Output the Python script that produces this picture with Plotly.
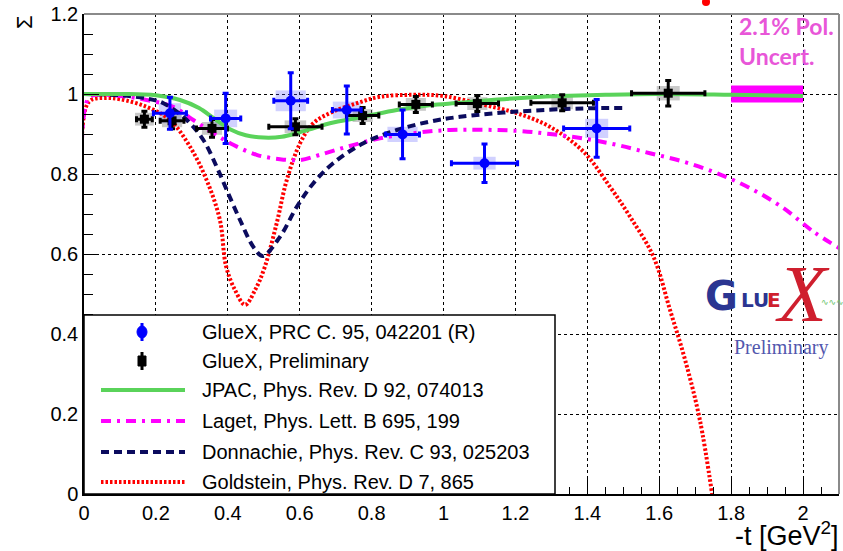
import plotly.graph_objects as go

# ---------------- data ----------------
# GlueX, PRC 95, 042201 (R)
blue_t = [0.239, 0.394, 0.575, 0.731, 0.886, 1.114, 1.426]
blue_sigma = [0.952, 0.939, 0.983, 0.960, 0.899, 0.827, 0.914]
blue_dt = [0.046, 0.042, 0.047, 0.040, 0.047, 0.092, 0.092]
blue_dsigma = [0.040, 0.063, 0.070, 0.060, 0.061, 0.048, 0.072]
blue_sys_t = [0.031, 0.032, 0.042, 0.039, 0.042, 0.031, 0.032]
blue_sys_sigma = [0.025, 0.022, 0.026, 0.021, 0.019, 0.016, 0.024]

# GlueX, preliminary
black_t = [0.168, 0.245, 0.356, 0.588, 0.775, 0.923, 1.094, 1.330, 1.625]
black_sigma = [0.937, 0.933, 0.914, 0.918, 0.946, 0.974, 0.976, 0.978, 1.002]
black_dt = [0.022, 0.033, 0.043, 0.074, 0.045, 0.046, 0.059, 0.087, 0.102]
black_dsigma = [0.020, 0.020, 0.022, 0.020, 0.020, 0.020, 0.020, 0.020, 0.032]
black_sys_t = [0.026, 0.028, 0.028, 0.030, 0.028, 0.028, 0.028, 0.030, 0.032]
black_sys_sigma = [0.016, 0.016, 0.016, 0.016, 0.016, 0.016, 0.016, 0.016, 0.018]

# polarisation uncertainty band
pol_t = [1.8, 2.0]
pol_uncert = 0.021

# JPAC, Phys. Rev. D 92, 074013
jpac_t = [0.0, 0.1, 0.2, 0.267, 0.32, 0.36, 0.406, 0.45, 0.5, 0.55, 0.592, 0.64,
          0.684, 0.777, 0.87, 0.96, 1.046, 1.15, 1.25, 1.324, 1.45, 1.6, 1.8, 2.0]
jpac_sigma = [1.0, 1.0, 0.997, 0.985, 0.965, 0.94, 0.912, 0.897, 0.891, 0.893, 0.902, 0.915,
              0.927, 0.943, 0.96, 0.972, 0.978, 0.986, 0.992, 0.995, 0.998, 1.0, 0.998, 0.995]

# Laget, Phys. Lett. B 695, 199
laget_t = [0.0, 0.004, 0.02, 0.1, 0.174, 0.248, 0.304, 0.36, 0.415, 0.48, 0.545, 0.601,
           0.656, 0.731, 0.823, 0.916, 1.018, 1.204, 1.296, 1.389, 1.481, 1.574, 1.667,
           1.76, 1.852, 1.945, 2.03, 2.1]
laget_sigma = [0.0, 0.97, 0.995, 0.995, 0.985, 0.968, 0.935, 0.902, 0.873, 0.848, 0.837, 0.835,
               0.848, 0.868, 0.889, 0.902, 0.91, 0.908, 0.9, 0.889, 0.873, 0.852, 0.831,
               0.802, 0.765, 0.715, 0.655, 0.615]

# Donnachie, Phys. Rev. C 93, 025203
donn_t = [0.0, 0.1, 0.174, 0.221, 0.286, 0.332, 0.369, 0.397, 0.434, 0.471, 0.497, 0.545,
          0.592, 0.638, 0.693, 0.777, 0.87, 0.962, 1.046, 1.204, 1.389, 1.5]
donn_sigma = [1.0, 0.997, 0.989, 0.977, 0.935, 0.885, 0.818, 0.76, 0.685, 0.618, 0.595, 0.643,
              0.718, 0.777, 0.827, 0.877, 0.91, 0.931, 0.943, 0.956, 0.964, 0.965]

# Goldstein, Phys. Rev. D 7, 865
gold_t = [0.0, 0.003, 0.02, 0.06, 0.1, 0.174, 0.239, 0.295, 0.341, 0.378, 0.395, 0.42,
          0.448, 0.476, 0.503, 0.536, 0.564, 0.601, 0.638, 0.693, 0.759, 0.823, 0.916, 1.0,
          1.111, 1.204, 1.296, 1.389, 1.463, 1.519, 1.584, 1.63, 1.672, 1.713, 1.747]
gold_sigma = [0.0, 0.96, 0.985, 0.99, 0.987, 0.968, 0.935, 0.868, 0.785, 0.685, 0.57, 0.51,
              0.473, 0.51, 0.568, 0.677, 0.785, 0.877, 0.927, 0.956, 0.977, 0.993, 0.998, 0.995,
              0.973, 0.952, 0.918, 0.856, 0.768, 0.693, 0.593, 0.46, 0.335, 0.185, 0.0]

legend_labels = [
    "GlueX, PRC C. 95, 042201 (R)",
    "GlueX, Preliminary",
    "JPAC, Phys. Rev. D 92, 074013",
    "Laget, Phys. Lett. B 695, 199",
    "Donnachie, Phys. Rev. C 93, 025203",
    "Goldstein, Phys. Rev. D 7, 865",
]

# ---------------- styles ----------------
BLUE = "#0000ff"
GREEN = "#5ad35a"
MAGENTA = "#ff00ff"
NAVY = "#0b0b5e"
RED = "#ff0000"
PINK_TEXT = "#e856d8"
FONT = "Liberation Sans, Arial, sans-serif"

W, H = 843, 551
L, R, T, B = 84, 4, 14, 57
PW, PH = W - L - R, H - T - B


def px(x):
    return (x - L) / PW


def py(y):
    return (T + PH - y) / PH


fig = go.Figure()
shapes = []

# systematic boxes
for t, s, dt, ds in zip(blue_t, blue_sigma, blue_sys_t, blue_sys_sigma):
    shapes.append(dict(type="rect", xref="x", yref="y", x0=t - dt, x1=t + dt,
                       y0=s - ds, y1=s + ds, fillcolor="rgba(90,90,255,0.28)",
                       line=dict(width=0), layer="between"))
for t, s, dt, ds in zip(black_t, black_sigma, black_sys_t, black_sys_sigma):
    shapes.append(dict(type="rect", xref="x", yref="y", x0=t - dt, x1=t + dt,
                       y0=s - ds, y1=s + ds, fillcolor="rgba(120,120,120,0.40)",
                       line=dict(width=0), layer="between"))

# polarisation uncertainty band
fig.add_trace(go.Scatter(
    x=[pol_t[0], pol_t[1], pol_t[1], pol_t[0], pol_t[0]],
    y=[1 - pol_uncert, 1 - pol_uncert, 1 + pol_uncert, 1 + pol_uncert, 1 - pol_uncert],
    mode="lines", fill="toself", fillcolor=MAGENTA, line=dict(width=0, color=MAGENTA),
    showlegend=False, hoverinfo="skip"))

# model curves
fig.add_trace(go.Scatter(x=gold_t, y=gold_sigma, mode="lines", line_shape="spline",
                         line=dict(color=RED, width=4, dash="2.5px,2px"), showlegend=False))
fig.add_trace(go.Scatter(x=laget_t, y=laget_sigma, mode="lines", line_shape="spline",
                         line=dict(color=MAGENTA, width=4, dash="10px,6px,3px,6px"), showlegend=False))
fig.add_trace(go.Scatter(x=donn_t, y=donn_sigma, mode="lines", line_shape="spline",
                         line=dict(color=NAVY, width=4, dash="8px,5px"), showlegend=False))
fig.add_trace(go.Scatter(x=jpac_t, y=jpac_sigma, mode="lines", line_shape="spline",
                         line=dict(color=GREEN, width=4), showlegend=False))

# data points
fig.add_trace(go.Scatter(
    x=black_t, y=black_sigma, mode="markers",
    marker=dict(symbol="square", size=9, color="black"),
    error_x=dict(type="data", array=black_dt, color="black", thickness=3, width=3),
    error_y=dict(type="data", array=black_dsigma, color="black", thickness=3, width=3),
    showlegend=False))
fig.add_trace(go.Scatter(
    x=blue_t, y=blue_sigma, mode="markers",
    marker=dict(symbol="circle", size=10, color=BLUE),
    error_x=dict(type="data", array=blue_dt, color=BLUE, thickness=3, width=3),
    error_y=dict(type="data", array=blue_dsigma, color=BLUE, thickness=3, width=3),
    showlegend=False))

# ---------------- legend box ----------------
leg_left, leg_right, leg_top, leg_bottom = 84, 555, 315, 494
shapes.append(dict(type="rect", xref="paper", yref="paper",
                   x0=px(leg_left), x1=px(leg_right), y0=py(leg_bottom), y1=py(leg_top),
                   fillcolor="white", line=dict(color="black", width=1.5), layer="above"))
row_y = [332, 361, 390, 421, 452, 482]
sx0, sx1, scx = 101, 185, 142
# blue point sample
shapes.append(dict(type="line", xref="paper", yref="paper", x0=px(scx), x1=px(scx),
                   y0=py(row_y[0] + 9), y1=py(row_y[0] - 9), line=dict(color=BLUE, width=3),
                   layer="above"))
shapes.append(dict(type="circle", xref="paper", yref="paper", x0=px(scx - 5), x1=px(scx + 5),
                   y0=py(row_y[0] + 6), y1=py(row_y[0] - 6), fillcolor=BLUE,
                   line=dict(color=BLUE, width=1), layer="above"))
# black point sample
shapes.append(dict(type="line", xref="paper", yref="paper", x0=px(scx), x1=px(scx),
                   y0=py(row_y[1] + 9), y1=py(row_y[1] - 9), line=dict(color="black", width=3),
                   layer="above"))
shapes.append(dict(type="rect", xref="paper", yref="paper", x0=px(scx - 4), x1=px(scx + 4),
                   y0=py(row_y[1] + 5), y1=py(row_y[1] - 5), fillcolor="black",
                   line=dict(color="black", width=1), layer="above"))
# line samples
for yy, col, dash in [(row_y[2], GREEN, "solid"), (row_y[3], MAGENTA, "10px,6px,3px,6px"),
                      (row_y[4], NAVY, "8px,5px"), (row_y[5], RED, "2.5px,2px")]:
    shapes.append(dict(type="line", xref="paper", yref="paper", x0=px(sx0), x1=px(sx1),
                       y0=py(yy), y1=py(yy), line=dict(color=col, width=4, dash=dash),
                       layer="above"))

# frame: grey top and right edges
shapes.append(dict(type="line", xref="paper", yref="paper", x0=0, x1=1, y0=1, y1=1,
                   line=dict(color="#8a8a8a", width=2), layer="above"))
shapes.append(dict(type="line", xref="paper", yref="paper", x0=1, x1=1, y0=0, y1=1,
                   line=dict(color="#8a8a8a", width=2), layer="above"))
# small red marker peeking in at the top edge
shapes.append(dict(type="circle", xref="paper", yref="paper", x0=px(702), x1=px(710),
                   y0=py(6), y1=py(-2), fillcolor=RED, line=dict(width=0), layer="above"))

annotations = []
for yy, lab in zip(row_y, legend_labels):
    annotations.append(dict(xref="paper", yref="paper", x=px(200), y=py(yy), text=lab,
                            showarrow=False, xanchor="left", yanchor="middle",
                            font=dict(family=FONT, size=20, color="black")))

# axis titles
annotations.append(dict(xref="paper", yref="paper", x=px(24), y=py(22), text="Σ",
                        textangle=-90, showarrow=False, xanchor="center", yanchor="middle",
                        font=dict(family=FONT, size=22, color="black")))
annotations.append(dict(xref="paper", yref="paper", x=px(841), y=py(534),
                        text="-t [GeV<sup>2</sup>]", showarrow=False, xanchor="right",
                        yanchor="middle", font=dict(family=FONT, size=27, color="black")))

# polarisation uncertainty label
annotations.append(dict(xref="paper", yref="paper", x=px(737), y=py(26), text="<b>2.1% Pol.</b>",
                        showarrow=False, xanchor="left", yanchor="middle",
                        font=dict(family="Lato, sans-serif", size=23, color=PINK_TEXT)))
annotations.append(dict(xref="paper", yref="paper", x=px(737), y=py(56), text="<b>Uncert.</b>",
                        showarrow=False, xanchor="left", yanchor="middle",
                        font=dict(family="Lato, sans-serif", size=23, color=PINK_TEXT)))

# GlueX logo
LOGO_NAVY = "#2b3591"
LOGO_RED = "#cf1f2e"
annotations.append(dict(xref="paper", yref="paper", x=px(703), y=py(296), text="<b>G</b>",
                        showarrow=False, xanchor="left", yanchor="middle",
                        font=dict(family="DejaVu Sans", size=40, color=LOGO_NAVY)))
annotations.append(dict(xref="paper", yref="paper", x=px(739), y=py(300), text="<b>LU</b>",
                        showarrow=False, xanchor="left", yanchor="middle",
                        font=dict(family="DejaVu Sans", size=20, color=LOGO_NAVY)))
annotations.append(dict(xref="paper", yref="paper", x=px(765), y=py(300), text="<b>E</b>",
                        showarrow=False, xanchor="left", yanchor="middle",
                        font=dict(family="DejaVu Sans", size=20, color=LOGO_RED)))
annotations.append(dict(xref="paper", yref="paper", x=px(773), y=py(294), text="<i>X</i>",
                        showarrow=False, xanchor="left", yanchor="middle",
                        font=dict(family="Liberation Serif", size=80, color=LOGO_RED)))
annotations.append(dict(xref="paper", yref="paper", x=px(819), y=py(302), text="∿∿∿",
                        showarrow=False, xanchor="left", yanchor="middle",
                        font=dict(family="DejaVu Sans", size=9, color="#6cc46c")))
annotations.append(dict(xref="paper", yref="paper", x=px(732), y=py(347), text="Preliminary",
                        showarrow=False, xanchor="left", yanchor="middle",
                        font=dict(family="Liberation Serif", size=20, color="#5257ad")))

axis_common = dict(
    showgrid=True, gridcolor="black", gridwidth=1, griddash="3px,3px",
    zeroline=False, showline=True, linecolor="black", linewidth=1.5,
    ticks="inside", tickcolor="black", tickwidth=1, ticklen=15,
    tickfont=dict(family=FONT, size=20, color="black"),
)

fig.update_layout(
    width=W, height=H,
    margin=dict(l=L, r=R, t=T, b=B),
    paper_bgcolor="white", plot_bgcolor="white",
    showlegend=False,
    xaxis=dict(range=[0, 2.1], tick0=0, dtick=0.2,
               minor=dict(dtick=0.05, ticklen=7, tickcolor="black", ticks="inside", showgrid=False),
               **axis_common),
    yaxis=dict(range=[0, 1.2], tick0=0, dtick=0.2,
               minor=dict(dtick=0.05, ticklen=9, tickcolor="black", ticks="inside", showgrid=False),
               **axis_common),
    shapes=shapes,
    annotations=annotations,
)

fig.write_html("out.html")
